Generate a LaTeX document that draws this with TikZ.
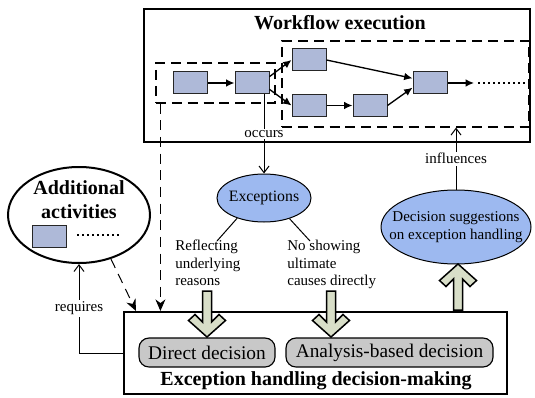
\documentclass[tikz,border=0pt]{standalone}
\usepackage{fontspec}
\setmainfont{Liberation Serif}
\newfontfamily\timesfont{Liberation Serif}
\usetikzlibrary{shapes.geometric,arrows.meta}

\definecolor{actfill}{RGB}{174,185,216}
\definecolor{ellfill}{RGB}{157,185,240}
\definecolor{choicefill}{RGB}{200,200,200}
\definecolor{fatfill}{RGB}{216,222,200}

\begin{document}
\begin{tikzpicture}
    [
    x=0.6pt, y=-0.6pt,
    every node/.style={font=\timesfont\fontsize{9}{10.5}\selectfont},
    activity/.style={rectangle, draw=black!85, line width=0.6pt, fill=actfill, minimum width=20.4pt, minimum height=13.2pt, inner sep=0},
    frame/.style={rectangle, draw, line width=1.2pt, inner sep=0},
    dashbox/.style={rectangle, draw, line width=0.7pt, dash pattern=on 6pt off 3.5pt, inner sep=0},
    bluell/.style={ellipse, draw, line width=0.6pt, fill=ellfill, inner sep=0},
    choice/.style={rectangle, rounded corners=6pt, draw, line width=0.7pt, fill=choicefill, minimum height=17.4pt, inner sep=0, font=\timesfont\fontsize{11.6}{13}\selectfont},
    heading/.style={font=\timesfont\bfseries\fontsize{12}{14.4}\selectfont, align=center},
    note/.style={align=left, inner sep=0},
    flow/.style={-{Latex[length=5pt,width=4.5pt]}, line width=0.8pt},
    link/.style={-{Straight Barb[length=4pt,width=6pt]}, line width=0.6pt},
    dasharrow/.style={-{Stealth[length=7pt,width=6pt]}, line width=0.6pt, dash pattern=on 6pt off 4pt},
    fatarrow/.pic={\draw[line width=0.9pt, line join=miter, fill=fatfill] (-4.5,-46) -- (-4.5,-15) -- (-12,-22.5) -- (-18.5,-16.5) -- (0,0) -- (18.5,-16.5) -- (12,-22.5) -- (4.5,-15) -- (4.5,-46) -- cycle;}
    ]
    \useasboundingbox (0,0) rectangle (535,397);

% Workflow execution
    \node[frame, minimum width=231.6pt, minimum height=79.8pt] (wf) at (337,75.5) {};
    \node[heading] (wftitle) at (340,23) {Workflow execution};
    \node[dashbox, minimum width=71.4pt, minimum height=24pt] (ldash) at (215.5,83) {};
    \node[dashbox, minimum width=148.2pt, minimum height=51.6pt] (rdash) at (405.5,84) {};

    \node[activity] (r1) at (190,83) {};
    \node[activity] (r2) at (252,83) {};
    \node[activity] (r3) at (309,60) {};
    \node[activity] (r4) at (309,105.5) {};
    \node[activity] (r5) at (370,105.5) {};
    \node[activity] (r6) at (430,83) {};
    \coordinate (wfend) at (474,83);

    \draw[flow] (r1) -- (r2);
    \draw[flow] (r2.20) -- (r3.west);
    \draw[flow] (r2.-20) -- (r4.west);
    \draw[flow] (r3.east) -- (r6.165);
    \draw[flow] (r4) -- (r5);
    \draw[flow] (r5.east) -- (r6.195);
    \draw[flow] (r6) -- (wfend);
    \draw[line width=1pt, dotted] (478,83) -- (525,83);

% Exceptions
    \node[bluell, minimum width=56.4pt, minimum height=28.8pt, inner xsep=-1.5pt, font=\timesfont\fontsize{9.5}{11}\selectfont] (exc) at (264,198) {Exceptions};
    \draw[link] (exc.north |- r2.south) -- node[fill=white, inner sep=1pt] {occurs} (exc.north);

    \node[note, anchor=north west] (reflect) at (175,240) {Reflecting\\underlying\\reasons};
    \node[note, anchor=north west] (noshow) at (287,240) {No showing\\ultimate\\causes directly};
    \coordinate (reflecttip) at (217,241);
    \coordinate (noshowtip) at (310,241);
    \draw[line width=0.6pt] (exc.217) -- (reflecttip);
    \draw[line width=0.6pt] (exc.321) -- (noshowtip);

% Decision suggestions
    \node[bluell, minimum width=90pt, minimum height=44.4pt, inner xsep=-9pt, align=center] (sugg) at (456,227) {Decision suggestions\\on exception handling};
    \draw[link] (sugg.north) -- node[fill=white, inner sep=1pt] {influences} (sugg.north |- rdash.south);

% Additional activities
    \node[ellipse, draw, line width=1.2pt, minimum width=85.2pt, minimum height=57.6pt, inner sep=0] (add) at (79,215) {};
    \node[heading] (addtitle) at (79,200) {Additional\\activities};
    \node[activity] (r7) at (49,236) {};
    \draw[line width=1pt, dotted] (77,235) -- (121,235);

% Exception handling decision-making
    \node[frame, minimum width=229.8pt, minimum height=49.2pt] (dec) at (315.5,353) {};
    \node[heading] (dectitle) at (316,381) {Exception handling decision-making};
    \node[choice, minimum width=81.6pt] (direct) at (207,352.5) {Direct decision};
    \node[choice, minimum width=124.2pt] (analysis) at (389.5,352.5) {Analysis-based decision};

% Links to the decision box
    \draw[dasharrow] ([xshift=3pt]ldash.south west) -- ([xshift=3pt]ldash.south west |- dec.north);
    \draw[dasharrow] (add.306) -- ([xshift=7.8pt]dec.north west);
    \draw[link] (dec.west) -| node[pos=0.75, fill=white, inner sep=1pt] {requires} (add.south);

% Big arrows
    \pic (fa1) at (207,337) {fatarrow};
    \pic (fa2) at (331,337) {fatarrow};
    \pic[rotate=180] (fa3) at (458,264) {fatarrow};

\end{tikzpicture}
\end{document}
